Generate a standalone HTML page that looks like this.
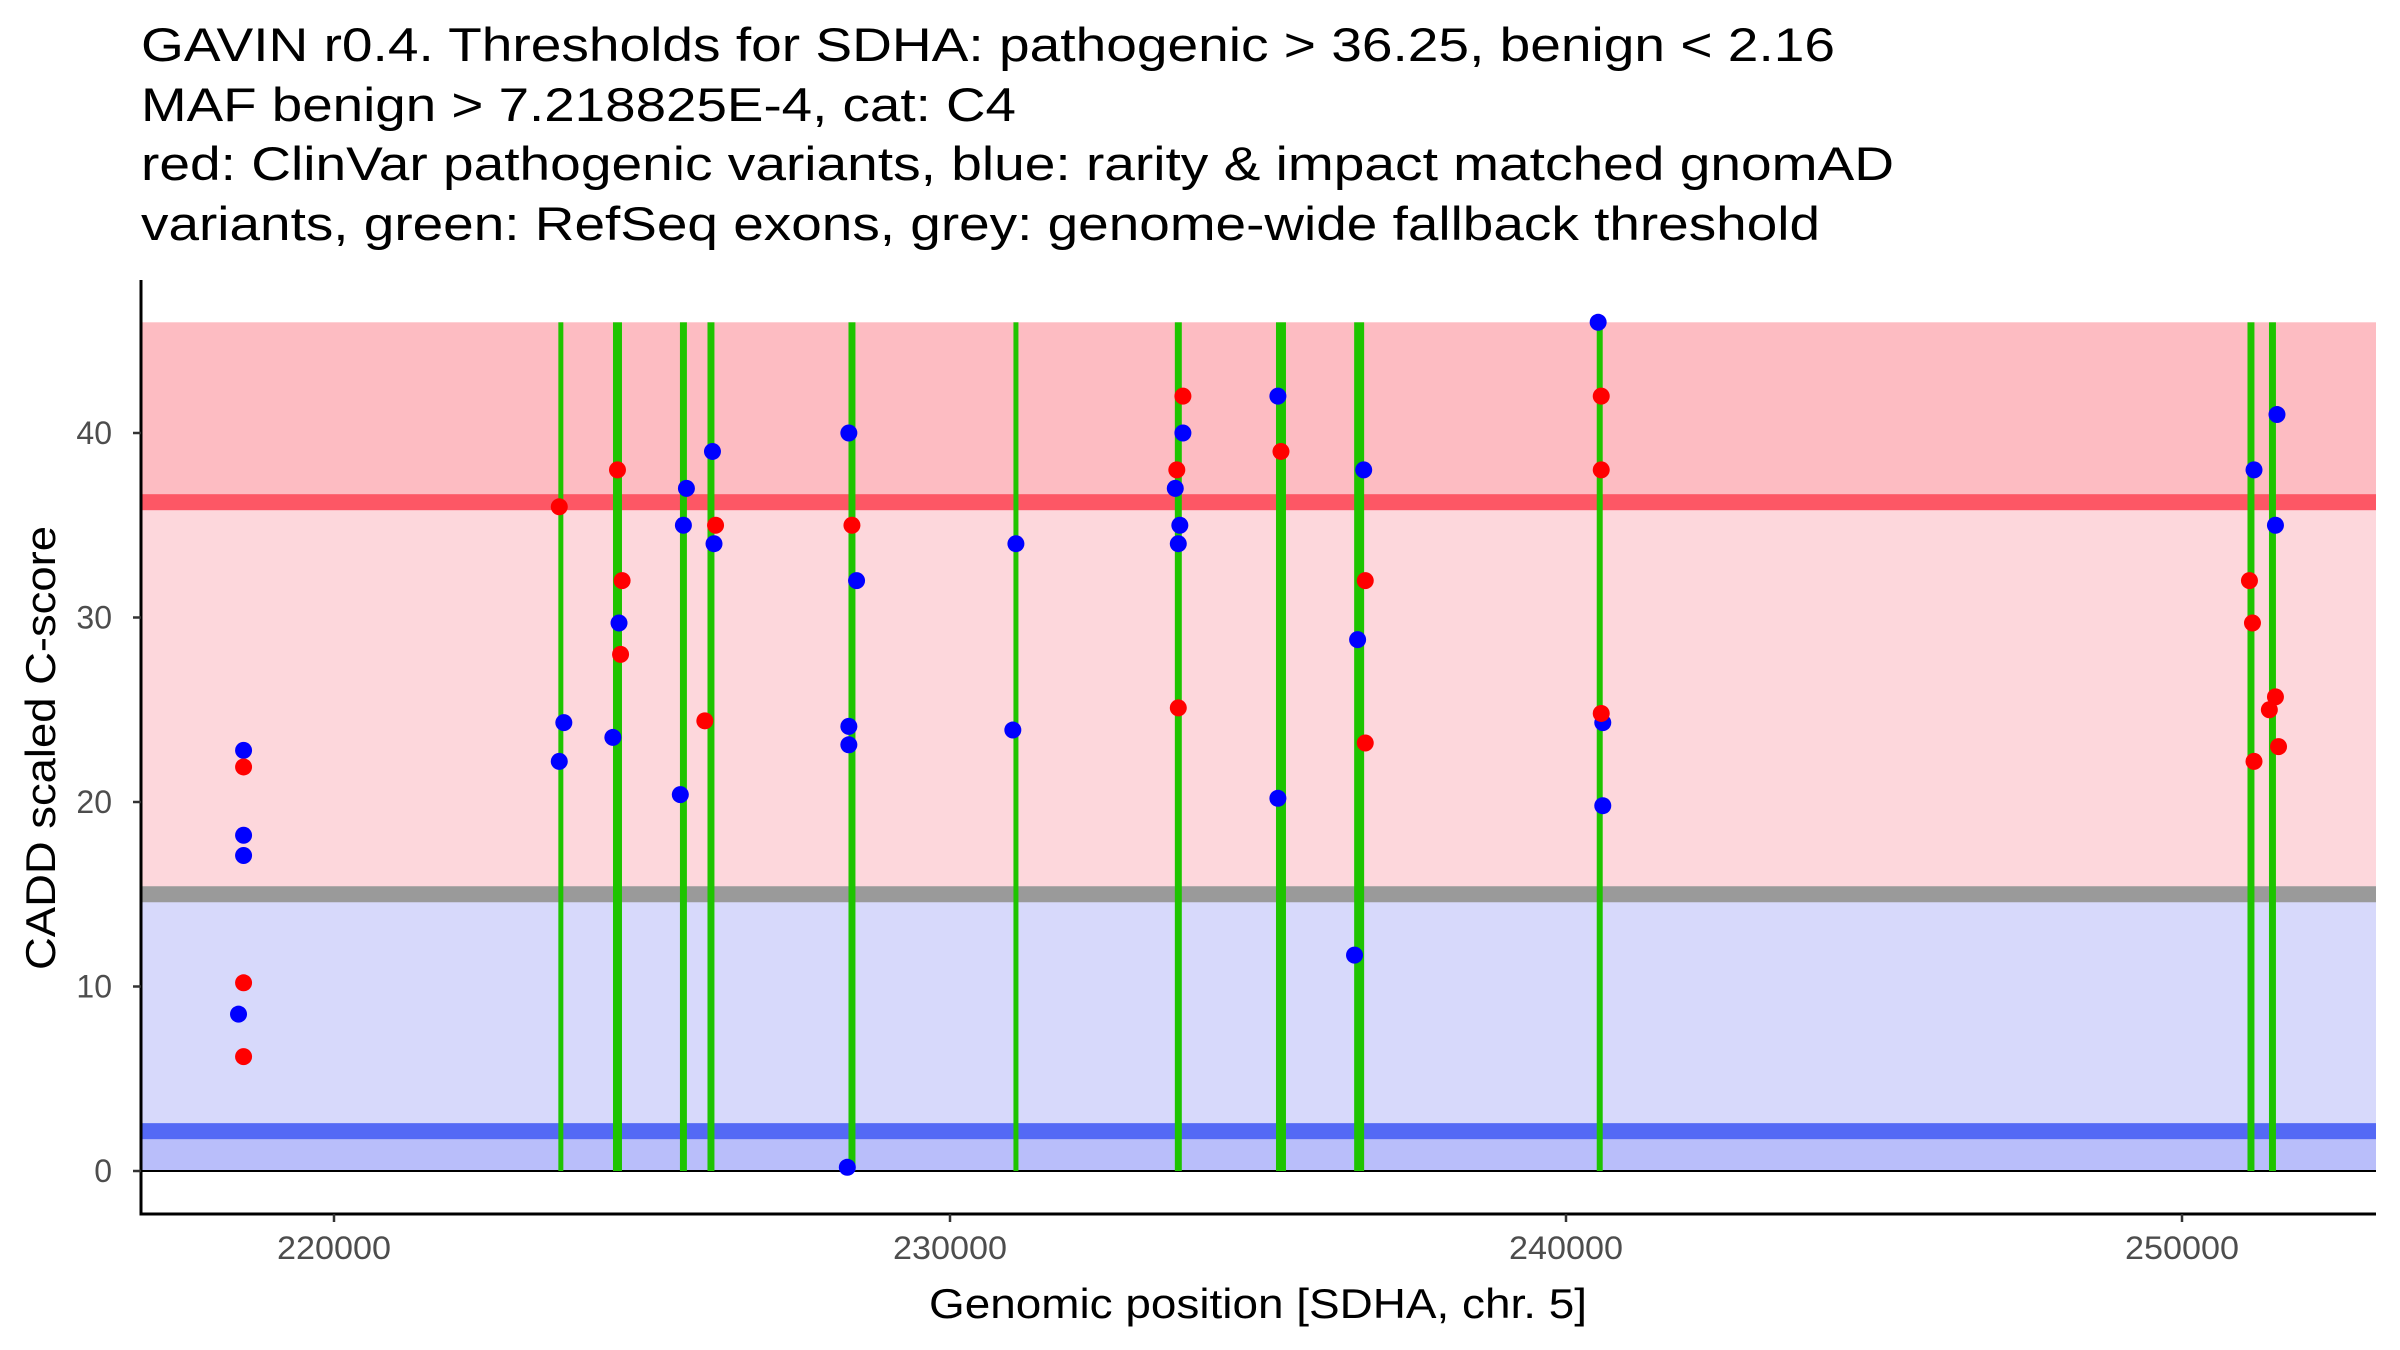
<!DOCTYPE html>
<html><head><meta charset="utf-8"><style>
html,body{margin:0;padding:0;background:#fff}
svg{display:block;font-family:"Liberation Sans",Arial,sans-serif}
</style></head><body>
<svg id="chart" width="2400" height="1350" viewBox="0 0 2400 1350" xmlns="http://www.w3.org/2000/svg">
<g font-size="47" fill="#000">
<text x="141" y="61" textLength="1694" lengthAdjust="spacingAndGlyphs">GAVIN r0.4. Thresholds for SDHA: pathogenic &gt; 36.25, benign &lt; 2.16</text>
<text x="141" y="121" textLength="875" lengthAdjust="spacingAndGlyphs">MAF benign &gt; 7.218825E-4, cat: C4</text>
<text x="141" y="180" textLength="1753" lengthAdjust="spacingAndGlyphs">red: ClinVar pathogenic variants, blue: rarity &amp; impact matched gnomAD</text>
<text x="141" y="240" textLength="1679" lengthAdjust="spacingAndGlyphs">variants, green: RefSeq exons, grey: genome-wide fallback threshold</text>
</g>
<g id="bands"></g>
<g id="exons"></g>
<g id="points"></g>
<g id="axes"></g>
<text x="1258" y="1318" font-size="42" text-anchor="middle" fill="#000" textLength="658" lengthAdjust="spacingAndGlyphs">Genomic position [SDHA, chr. 5]</text>
<text transform="translate(55,748) rotate(-90)" font-size="42" text-anchor="middle" fill="#000" textLength="444" lengthAdjust="spacingAndGlyphs">CADD scaled C-score</text>
</svg>
<script>
const xTicks = [220000, 230000, 240000, 250000];
const yTicks = [0, 10, 20, 30, 40];
const pathoThreshold = 36.25;
const benignThreshold = 2.16;
const fallbackThreshold = 15;
const yMaxBand = 46;
const exonStart = [223642, 224529, 225616, 226063, 228352, 231030, 233650, 235292, 236561, 240499, 251063, 251412];
const exonEnd   = [223723, 224675, 225729, 226176, 228465, 231111, 233763, 235454, 236723, 240596, 251176, 251525];
const redPos   = [218532,218532,218532,223657,224602,224677,224652,226194,226020,228408,233781,233682,233706,235373,236741,236741,240572,240572,240572,251095,251144,251169,251517,251418,251567];
const redVal   = [21.9,10.2,6.2,36,38,32,28,35,24.4,35,42,38,25.1,39,32,23.2,42,38,24.8,32,29.7,22.2,25.7,25,23];
const bluePos  = [218532,218532,218532,218450,223731,223657,224627,224527,225721,225672,225622,226144,226169,228358,228483,228358,228358,228333,231070,231020,233781,233657,233731,233706,235323,235323,236716,236617,236567,240522,240597,240597,251169,251542,251517];
const blueVal  = [22.8,18.2,17.1,8.5,24.3,22.2,29.7,23.5,37,35,20.4,39,34,40,32,24.1,23.1,0.2,34,23.9,40,37,35,34,42,20.2,38,28.8,11.7,46,24.3,19.8,38,41,35];

const NS = 'http://www.w3.org/2000/svg';
const L = 141, R = 2376, AX_Y = 1214;
function X(v){ return 334 + (v - 220000) * 616 / 10000; }
function Y(v){ return 1171 - v * 18.45; }
function mk(parent, tag, attrs){ const e = document.createElementNS(NS, tag); for (const k in attrs) e.setAttribute(k, attrs[k]); parent.appendChild(e); return e; }

const bands = document.getElementById('bands');
let r;
r = mk(bands,'rect',{x:L,y:Y(yMaxBand),width:R-L,height:Y(pathoThreshold)-Y(yMaxBand),fill:'#fdbcc2'});


r = mk(bands,'rect',{x:L,y:Y(pathoThreshold),width:R-L,height:Y(fallbackThreshold)-Y(pathoThreshold),fill:'#fdd7dc'});


r = mk(bands,'rect',{x:L,y:Y(fallbackThreshold),width:R-L,height:Y(benignThreshold)-Y(fallbackThreshold),fill:'#d7d9fb'});


r = mk(bands,'rect',{x:L,y:Y(benignThreshold),width:R-L,height:Y(0)-Y(benignThreshold),fill:'#b9befa'});


r = mk(bands,'rect',{x:L,y:Y(pathoThreshold)-8,width:R-L,height:16,fill:'#fd5765'});


r = mk(bands,'rect',{x:L,y:Y(fallbackThreshold)-8,width:R-L,height:16,fill:'#9a9a9a'});


r = mk(bands,'rect',{x:L,y:Y(benignThreshold)-8,width:R-L,height:16,fill:'#5469f5'});


r = mk(bands,'line',{x1:L,x2:R,y1:Y(0),y2:Y(0),stroke:'#000','stroke-width':2});



const exG = document.getElementById('exons');
for (let i = 0; i < exonStart.length; i++) {
  const x1 = X(exonStart[i]), x2 = X(exonEnd[i]);
  const e = mk(exG,'rect',{x:x1,y:Y(yMaxBand),width:Math.max(4,x2-x1),height:Y(0)-Y(yMaxBand),fill:'#1ec400'});
  
  
}
const pG = document.getElementById('points');
for (let i = 0; i < bluePos.length; i++) {
  const c = mk(pG,'circle',{cx:X(bluePos[i]),cy:Y(blueVal[i]),r:8.5,fill:'#0000ff'});
  
  
}
for (let i = 0; i < redPos.length; i++) {
  const c = mk(pG,'circle',{cx:X(redPos[i]),cy:Y(redVal[i]),r:8.5,fill:'#ff0000'});
  
  
}
const ax = document.getElementById('axes');
let a = mk(ax,'line',{x1:L,x2:L,y1:280,y2:AX_Y+1.5,stroke:'#000','stroke-width':3});


a = mk(ax,'line',{x1:L-1.5,x2:R,y1:AX_Y,y2:AX_Y,stroke:'#000','stroke-width':3});


yTicks.forEach(v => {
  const t = mk(ax,'line',{x1:L-8,x2:L,y1:Y(v),y2:Y(v),stroke:'#333','stroke-width':2.5});
  
  
  const l = mk(ax,'text',{x:L-29,y:Y(v)+11,'font-size':32,'text-anchor':'end',fill:'#4d4d4d'});
  l.textContent = v;
  
  
});
xTicks.forEach(v => {
  const t = mk(ax,'line',{x1:X(v),x2:X(v),y1:AX_Y,y2:AX_Y+8,stroke:'#333','stroke-width':2.5});
  
  
  const l = mk(ax,'text',{x:X(v),y:AX_Y+45,'font-size':32,'text-anchor':'middle',fill:'#4d4d4d',textLength:114,lengthAdjust:'spacingAndGlyphs'});
  l.textContent = v;
  
  
});
</script>
</body></html>
